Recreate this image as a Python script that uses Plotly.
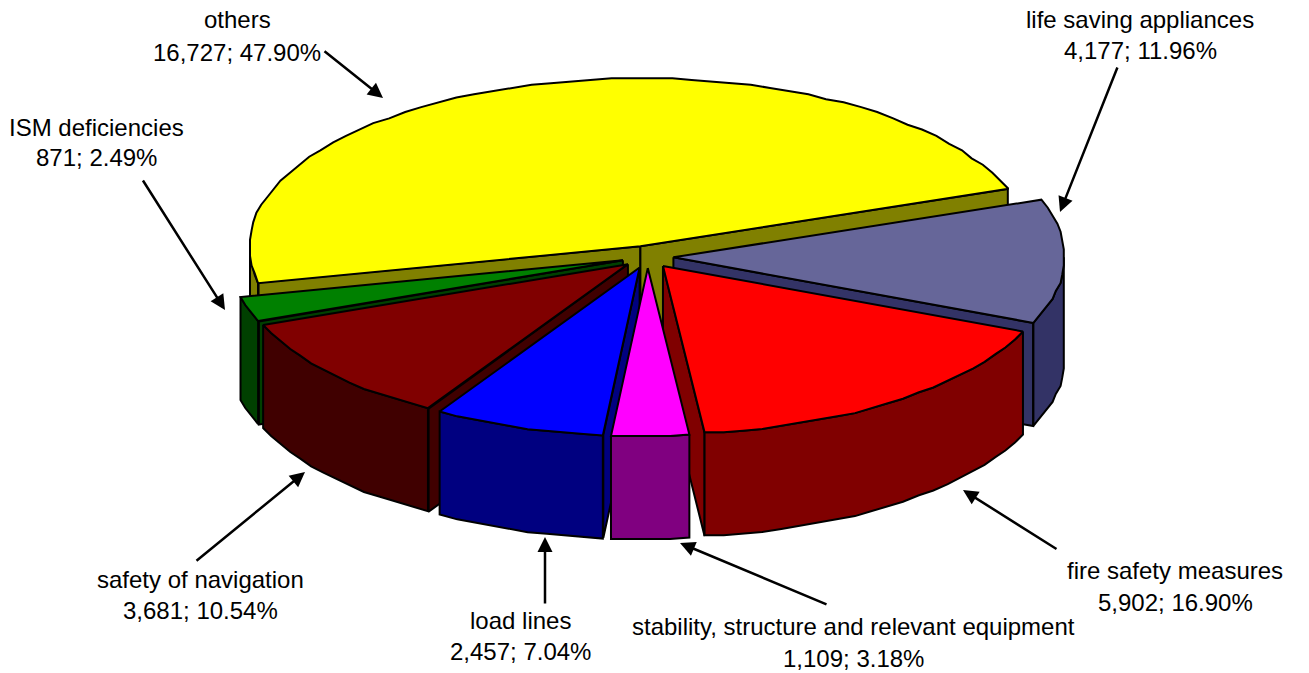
"""Exploded 3D-look pie of deficiency categories, drawn as projected polygons."""
import math

import plotly.graph_objects as go

WIDTH, HEIGHT = 1309, 673

categories = ["life saving appliances", "fire safety measures",
              "stability, structure and relevant equipment", "load lines",
              "safety of navigation", "ISM deficiencies", "others"]
counts = [4177, 5902, 1109, 2457, 3681, 871, 16727]
percent_labels = ["11.96%", "16.90%", "3.18%", "7.04%", "10.54%", "2.49%", "47.90%"]

top_colors = ["#666699", "#FF0000", "#FF00FF", "#0000FF", "#800000", "#008000", "#FFFF00"]
side_colors = ["#333366", "#800000", "#800080", "#000080", "#400000", "#004000", "#808000"]

# back to front, indexes into the lists above
draw_order = [6, 0, 5, 4, 1, 3, 2]

# label centre x, line y's, arrow tail, arrow tip
label_pos = [
    (1140, 19, 50, (1118, 66), (1060, 212)),
    (1175, 570, 602, (1058, 550), (963, 490)),
    (853, 626, 658, (828, 605), (680, 543)),
    (520, 620, 651, (545, 605), (545, 537)),
    (200, 579, 610, (195, 562), (305, 472)),
    (96, 127, 157, (142, 179), (225, 310)),
    (237, 19, 52, (323, 50), (383, 98)),
]

# projection of the pie
CX, CY = 647.6, 257.0
RX, RY = 391.0, 168.0
DEPTH = 103.0
EXPLODE = 0.066
START_ANGLE = 70.0  # degrees clockwise from the top
STEP = 3.0
GRID = 1.6  # the rim of the original is slightly stepped, not smooth


def project(angle, radius=1.0):
    rad = math.radians(angle)
    return RX * radius * math.sin(rad), -RY * radius * math.cos(rad)


def rim(a0, a1):
    n = max(1, int(math.ceil((a1 - a0) / STEP)))
    return [a0 + (a1 - a0) * i / n for i in range(n + 1)]


def add_poly(fig, pts, color, name):
    xs = [p[0] for p in pts] + [pts[0][0]]
    ys = [p[1] for p in pts] + [pts[0][1]]
    fig.add_trace(go.Scatter(
        x=xs, y=ys, mode="lines", fill="toself", fillcolor=color,
        line=dict(color="black", width=2), name=name, hoverinfo="name",
        showlegend=False,
    ))


def add_slice(fig, name, a0, a1, top, side):
    mid = (a0 + a1) / 2
    ox, oy = project(mid, EXPLODE)
    ax, ay = CX + ox, CY + oy

    def pt(angle, drop=0.0):
        dx, dy = project(angle)
        return ax + dx, ay + dy + drop

    def rim_pt(angle, drop=0.0):
        dx, dy = project(angle)
        return ax + round(dx / GRID) * GRID, ay + round(dy / GRID) * GRID + drop

    # radial walls facing the viewer
    if math.sin(math.radians(a0)) < 0:
        add_poly(fig, [(ax, ay), pt(a0), pt(a0, DEPTH), (ax, ay + DEPTH)], side, name)
    if math.sin(math.radians(a1)) > 0:
        add_poly(fig, [(ax, ay), pt(a1), pt(a1, DEPTH), (ax, ay + DEPTH)], side, name)

    # outer wall, only the part on the near half of the rim
    lo, hi = max(a0, 90.0), min(a1, 270.0)
    if lo < hi:
        arc = rim(lo, hi)
        add_poly(fig, [rim_pt(t) for t in arc] + [rim_pt(t, DEPTH) for t in reversed(arc)],
                 side, name)

    add_poly(fig, [(ax, ay)] + [rim_pt(t) for t in rim(a0, a1)], top, name)


total = sum(counts)
edges = [START_ANGLE]
for c in counts:
    edges.append(edges[-1] + 360.0 * c / total)

fig = go.Figure()
for i in draw_order:
    add_slice(fig, categories[i], edges[i], edges[i + 1], top_colors[i], side_colors[i])

font = dict(family="Liberation Sans, Arial", size=24, color="black")
for i, (cx, y1, y2, tail, tip) in enumerate(label_pos):
    fig.add_annotation(x=cx, y=y1, text=categories[i], showarrow=False, font=font)
    fig.add_annotation(x=cx, y=y2, text=f"{counts[i]:,}; {percent_labels[i]}",
                       showarrow=False, font=font)
    fig.add_annotation(x=tip[0], y=tip[1], ax=tail[0], ay=tail[1], axref="x", ayref="y",
                       text="", showarrow=True, arrowhead=2, arrowsize=1.2,
                       arrowwidth=2.5, arrowcolor="black")

fig.update_layout(
    width=WIDTH, height=HEIGHT,
    margin=dict(l=0, r=0, t=0, b=0),
    paper_bgcolor="white", plot_bgcolor="white",
    showlegend=False,
    xaxis=dict(range=[0, WIDTH], visible=False, fixedrange=True),
    yaxis=dict(range=[HEIGHT, 0], visible=False, fixedrange=True),
)

fig.write_html("out.html", config=dict(displayModeBar=False),
               post_script="document.body.style.margin='0';")
